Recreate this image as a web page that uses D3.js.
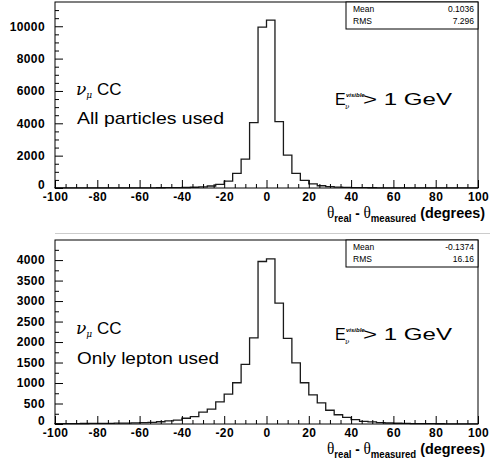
<!DOCTYPE html>
<html><head><meta charset="utf-8">
<script src="https://cdn.jsdelivr.net/npm/d3@7"></script>
<style>body{margin:0;background:#fff} svg{display:block}</style>
</head><body>
<svg id="c" width="490" height="473"></svg>
<script>
// ---- data ----
const binEdges = d3.range(-100, 101, 4); // 50 bins of width 4 degrees
const countsAll = [2,3,2,3,4,3,5,5,6,8, 9,12,14,18,24,32,45,70,125,230, 420,910,1790,4040,9950,10380,4100,2030,910,470, 250,140,85,52,35,25,18,14,11,9, 7,6,5,4,4,3,3,2,2,2];
const countsLepton = [8,9,10,12,14,15,17,20,23,27, 33,42,55,75,95,140,180,290,365,540, 730,1006,1454,2100,3965,4030,2950,2090,1490,1006, 710,515,335,226,160,105,63,50,32,25, 18,14,11,9,7,6,5,4,4,3];
const xTicks = [-100,-80,-60,-40,-20,0,20,40,60,80,100];
const yTicksTop = [0,2000,4000,6000,8000,10000];
const yTicksBottom = [0,500,1000,1500,2000,2500,3000,3500,4000];
const statsAll = [["Mean","0.1036"],["RMS","7.296"]];
const statsLepton = [["Mean","-0.1374"],["RMS","16.16"]];
const labelAll = "All particles used";
const labelLepton = "Only lepton used";

const svg = d3.select("#c");
const L = 55, R = 478;
const SANS = "Liberation Sans, Arial, sans-serif";
const x = d3.scaleLinear([-100, 100], [L, R]);

function drawPanel(o) {
  const g = svg.append("g");
  const y = d3.scaleLinear([0, o.yMax], [o.bottom, o.top]);

  // histogram
  const pts = [[x(-100), y(0)]];
  o.counts.forEach((c, i) => {
    pts.push([x(binEdges[i]), y(c)], [x(binEdges[i + 1]), y(c)]);
  });
  pts.push([x(100), y(0)]);
  g.append("path").attr("d", d3.line()(pts))
    .attr("fill", "none").attr("stroke", "#1a1a1a").attr("stroke-width", 1.3);

  // x axis
  g.append("g").attr("transform", `translate(0,${o.bottom})`)
    .call(d3.axisBottom(x).tickValues(xTicks).tickSizeInner(-8).tickSizeOuter(0).tickPadding(4).tickFormat(d => String(d)));
  g.append("g").attr("transform", `translate(0,${o.bottom})`)
    .call(d3.axisBottom(x).tickValues(d3.range(-100, 101, 5).filter(v => v % 20 !== 0)).tickSizeInner(-4).tickSizeOuter(0).tickFormat(""));
  // y axis
  const ya = g.append("g").attr("transform", `translate(${L},0)`)
    .call(d3.axisLeft(y).tickValues(o.yTicks).tickSizeInner(-8).tickSizeOuter(0).tickPadding(10).tickFormat(d => String(d)));
  ya.selectAll(".tick").filter(d => d === 0).select("text").attr("dy", "0.05em");
  g.append("g").attr("transform", `translate(${L},0)`)
    .call(d3.axisLeft(y).tickValues(d3.range(0, o.yMax, o.yMinor).filter(v => !o.yTicks.includes(v))).tickSizeInner(-4).tickSizeOuter(0).tickFormat(""));
  g.selectAll(".tick text").attr("font-family", SANS)
    .attr("font-weight", "bold").attr("font-size", 12).attr("fill", "#000").attr("letter-spacing", 0.4);
  g.selectAll(".domain").remove();
  g.selectAll(".tick line").attr("stroke", "#000");

  // frame
  g.append("rect").attr("x", L).attr("y", o.top).attr("width", R - L).attr("height", o.bottom - o.top)
    .attr("fill", "none").attr("stroke", "#000").attr("stroke-width", 1);

  // stats box
  const bx = 346, bh = 27;
  g.append("rect").attr("x", bx).attr("y", o.top).attr("width", R - bx).attr("height", bh)
    .attr("fill", "#fff").attr("stroke", "#000").attr("stroke-width", 1);
  o.stats.forEach((s, i) => {
    const yy = o.top + 10 + i * 12;
    g.append("text").attr("x", bx + 7).attr("y", yy).text(s[0])
      .attr("font-family", SANS).attr("font-size", 8.5);
    g.append("text").attr("x", R - 4).attr("y", yy).attr("text-anchor", "end").text(s[1])
      .attr("font-family", SANS).attr("font-size", 8.5);
  });

  // nu_mu CC
  const t1 = g.append("text").attr("x", 76).attr("y", o.top + o.nuY).attr("font-family", SANS).attr("font-size", 17);
  t1.append("tspan").text("ν").attr("font-family", "DejaVu Serif, serif").attr("font-style", "italic").attr("font-size", 17);
  t1.append("tspan").text("μ").attr("font-family", "DejaVu Serif, serif").attr("font-style", "italic").attr("font-size", 9).attr("dy", 3);
  t1.append("tspan").text(" CC").attr("dy", -3).attr("font-size", 17);
  g.append("text").attr("x", 77).attr("y", o.top + o.labY).text(o.label)
    .attr("font-family", SANS).attr("font-size", 17)
    .attr("textLength", o.labW).attr("lengthAdjust", "spacingAndGlyphs");

  // E visible (E with superscript "visible" and subscript nu)
  const ex = 335, ey = o.top + o.eY;
  const te = g.append("text").attr("x", ex).attr("y", ey).attr("font-family", SANS).attr("font-size", 16);
  te.append("tspan").text("E");
  te.append("tspan").text("ν").attr("x", ex + 10).attr("dy", 4).attr("font-family", "DejaVu Serif, serif")
    .attr("font-style", "italic").attr("font-size", 7);
  te.append("tspan").text("visible").attr("x", ex + 11).attr("dy", -12).attr("font-style", "italic").attr("font-weight", "bold")
    .attr("font-size", 6);
  te.append("tspan").text("> 1 GeV").attr("x", 363).attr("dy", 8).attr("font-size", 17)
    .attr("textLength", 89).attr("lengthAdjust", "spacingAndGlyphs");

  // x title
  const tt = g.append("text").attr("x", 327).attr("y", o.bottom + 30).attr("font-family", SANS).attr("font-weight", "bold")
    .attr("textLength", 158).attr("lengthAdjust", "spacingAndGlyphs");
  tt.append("tspan").text("θ").attr("font-family", "Liberation Serif, serif").attr("font-weight", "normal").attr("font-size", 16);
  tt.append("tspan").text("real").attr("font-size", 10).attr("dy", 4);
  tt.append("tspan").text(" - ").attr("font-size", 14).attr("dy", -4);
  tt.append("tspan").text("θ").attr("font-family", "Liberation Serif, serif").attr("font-weight", "normal").attr("font-size", 16);
  tt.append("tspan").text("measured").attr("font-size", 10).attr("dy", 4);
  tt.append("tspan").text(" (degrees)").attr("font-size", 15).attr("dy", -4);
}

drawPanel({top: 2, bottom: 188, yMax: 11500, counts: countsAll, yTicks: yTicksTop, yMinor: 500,
  stats: statsAll, label: labelAll, labW: 147, nuY: 93, labY: 122, eY: 103});
drawPanel({top: 240, bottom: 424, yMax: 4490, counts: countsLepton, yTicks: yTicksBottom, yMinor: 250,
  stats: statsLepton, label: labelLepton, labW: 142, nuY: 94, labY: 124, eY: 100});

svg.append("line").attr("x1", 55).attr("x2", 490).attr("y1", 233.5).attr("y2", 233.5).attr("stroke", "#ccc");
</script>
</body></html>
